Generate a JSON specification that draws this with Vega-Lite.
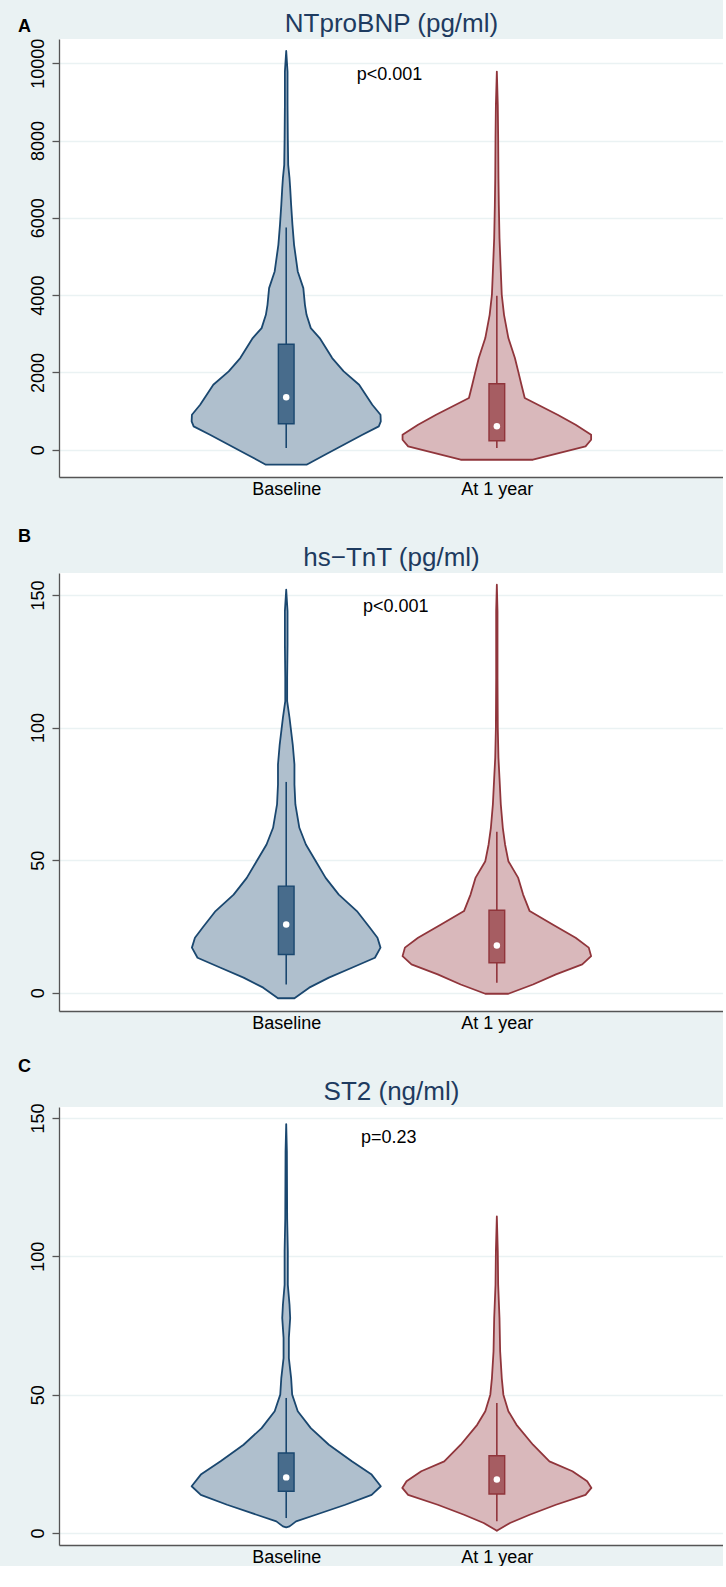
{
  "$schema": "https://vega.github.io/schema/vega-lite/v6.json",
  "padding": {"left": 17, "top": 10, "right": 0, "bottom": 0},
  "background": "#EAF2F3",
  "datasets": {
    "violins": [
      {"p":"A","g":"Baseline","v":10319,"d":0},
      {"p":"A","g":"Baseline","v":9785,"d":0.014},
      {"p":"A","g":"Baseline","v":8922,"d":0.014},
      {"p":"A","g":"Baseline","v":8061,"d":0.017},
      {"p":"A","g":"Baseline","v":7371,"d":0.021},
      {"p":"A","g":"Baseline","v":7026,"d":0.035},
      {"p":"A","g":"Baseline","v":6768,"d":0.042},
      {"p":"A","g":"Baseline","v":6336,"d":0.052},
      {"p":"A","g":"Baseline","v":5819,"d":0.066},
      {"p":"A","g":"Baseline","v":5302,"d":0.083},
      {"p":"A","g":"Baseline","v":4613,"d":0.122},
      {"p":"A","g":"Baseline","v":4182,"d":0.181},
      {"p":"A","g":"Baseline","v":3750,"d":0.198},
      {"p":"A","g":"Baseline","v":3492,"d":0.215},
      {"p":"A","g":"Baseline","v":3147,"d":0.26},
      {"p":"A","g":"Baseline","v":2889,"d":0.354},
      {"p":"A","g":"Baseline","v":2371,"d":0.486},
      {"p":"A","g":"Baseline","v":2027,"d":0.608},
      {"p":"A","g":"Baseline","v":1682,"d":0.771},
      {"p":"A","g":"Baseline","v":1164,"d":0.91},
      {"p":"A","g":"Baseline","v":906,"d":0.997},
      {"p":"A","g":"Baseline","v":734,"d":1},
      {"p":"A","g":"Baseline","v":604,"d":0.979},
      {"p":"A","g":"Baseline","v":389,"d":0.806},
      {"p":"A","g":"Baseline","v":130,"d":0.608},
      {"p":"A","g":"Baseline","v":-129,"d":0.41},
      {"p":"A","g":"Baseline","v":-387,"d":0.215},
      {"p":"A","g":"At 1 year","v":9785,"d":0},
      {"p":"A","g":"At 1 year","v":8922,"d":0.01},
      {"p":"A","g":"At 1 year","v":8061,"d":0.014},
      {"p":"A","g":"At 1 year","v":7026,"d":0.017},
      {"p":"A","g":"At 1 year","v":6336,"d":0.021},
      {"p":"A","g":"At 1 year","v":5475,"d":0.028},
      {"p":"A","g":"At 1 year","v":4613,"d":0.042},
      {"p":"A","g":"At 1 year","v":4010,"d":0.052},
      {"p":"A","g":"At 1 year","v":3491,"d":0.076},
      {"p":"A","g":"At 1 year","v":2889,"d":0.122},
      {"p":"A","g":"At 1 year","v":2372,"d":0.191},
      {"p":"A","g":"At 1 year","v":2027,"d":0.226},
      {"p":"A","g":"At 1 year","v":1682,"d":0.26},
      {"p":"A","g":"At 1 year","v":1337,"d":0.295},
      {"p":"A","g":"At 1 year","v":906,"d":0.642},
      {"p":"A","g":"At 1 year","v":648,"d":0.833},
      {"p":"A","g":"At 1 year","v":388,"d":0.997},
      {"p":"A","g":"At 1 year","v":259,"d":0.997},
      {"p":"A","g":"At 1 year","v":87,"d":0.938},
      {"p":"A","g":"At 1 year","v":-259,"d":0.382},
      {"p":"B","g":"Baseline","v":152,"d":0},
      {"p":"B","g":"Baseline","v":143.9,"d":0.014},
      {"p":"B","g":"Baseline","v":131.3,"d":0.014},
      {"p":"B","g":"Baseline","v":118.7,"d":0.01},
      {"p":"B","g":"Baseline","v":110,"d":0.01},
      {"p":"B","g":"Baseline","v":103.7,"d":0.035},
      {"p":"B","g":"Baseline","v":93.6,"d":0.069},
      {"p":"B","g":"Baseline","v":86.1,"d":0.087},
      {"p":"B","g":"Baseline","v":78.5,"d":0.087},
      {"p":"B","g":"Baseline","v":71,"d":0.097},
      {"p":"B","g":"Baseline","v":62.2,"d":0.139},
      {"p":"B","g":"Baseline","v":55.9,"d":0.208},
      {"p":"B","g":"Baseline","v":49.6,"d":0.313},
      {"p":"B","g":"Baseline","v":43.3,"d":0.417},
      {"p":"B","g":"Baseline","v":37,"d":0.556},
      {"p":"B","g":"Baseline","v":30.8,"d":0.747},
      {"p":"B","g":"Baseline","v":24.5,"d":0.885},
      {"p":"B","g":"Baseline","v":20.7,"d":0.965},
      {"p":"B","g":"Baseline","v":17,"d":0.997},
      {"p":"B","g":"Baseline","v":13.2,"d":0.938},
      {"p":"B","g":"Baseline","v":9.4,"d":0.694},
      {"p":"B","g":"Baseline","v":5.7,"d":0.451},
      {"p":"B","g":"Baseline","v":1.9,"d":0.243},
      {"p":"B","g":"Baseline","v":-2.1,"d":0.087},
      {"p":"B","g":"At 1 year","v":153.9,"d":0},
      {"p":"B","g":"At 1 year","v":143.9,"d":0.007},
      {"p":"B","g":"At 1 year","v":118.7,"d":0.007},
      {"p":"B","g":"At 1 year","v":99.9,"d":0.01},
      {"p":"B","g":"At 1 year","v":88.6,"d":0.017},
      {"p":"B","g":"At 1 year","v":81,"d":0.028},
      {"p":"B","g":"At 1 year","v":71,"d":0.042},
      {"p":"B","g":"At 1 year","v":62.2,"d":0.063},
      {"p":"B","g":"At 1 year","v":55.9,"d":0.087},
      {"p":"B","g":"At 1 year","v":49.6,"d":0.122},
      {"p":"B","g":"At 1 year","v":43.3,"d":0.226},
      {"p":"B","g":"At 1 year","v":37,"d":0.278},
      {"p":"B","g":"At 1 year","v":30.8,"d":0.347},
      {"p":"B","g":"At 1 year","v":25.7,"d":0.59},
      {"p":"B","g":"At 1 year","v":20.7,"d":0.833},
      {"p":"B","g":"At 1 year","v":17,"d":0.972},
      {"p":"B","g":"At 1 year","v":13.8,"d":0.997},
      {"p":"B","g":"At 1 year","v":10.7,"d":0.903},
      {"p":"B","g":"At 1 year","v":6.9,"d":0.625},
      {"p":"B","g":"At 1 year","v":3.1,"d":0.382},
      {"p":"B","g":"At 1 year","v":-0.4,"d":0.122},
      {"p":"C","g":"Baseline","v":147.8,"d":0},
      {"p":"C","g":"Baseline","v":137.9,"d":0.007},
      {"p":"C","g":"Baseline","v":113.8,"d":0.01},
      {"p":"C","g":"Baseline","v":101.8,"d":0.017},
      {"p":"C","g":"Baseline","v":89.7,"d":0.017},
      {"p":"C","g":"Baseline","v":82.5,"d":0.035},
      {"p":"C","g":"Baseline","v":77.7,"d":0.042},
      {"p":"C","g":"Baseline","v":70.5,"d":0.028},
      {"p":"C","g":"Baseline","v":63.2,"d":0.028},
      {"p":"C","g":"Baseline","v":56,"d":0.052},
      {"p":"C","g":"Baseline","v":50,"d":0.063},
      {"p":"C","g":"Baseline","v":44,"d":0.122},
      {"p":"C","g":"Baseline","v":37.9,"d":0.26},
      {"p":"C","g":"Baseline","v":31.9,"d":0.451},
      {"p":"C","g":"Baseline","v":25.9,"d":0.694},
      {"p":"C","g":"Baseline","v":21.1,"d":0.903},
      {"p":"C","g":"Baseline","v":16.9,"d":1},
      {"p":"C","g":"Baseline","v":13.8,"d":0.903},
      {"p":"C","g":"Baseline","v":10.2,"d":0.625},
      {"p":"C","g":"Baseline","v":6.6,"d":0.313},
      {"p":"C","g":"Baseline","v":4.2,"d":0.104},
      {"p":"C","g":"Baseline","v":2.4,"d":0.035},
      {"p":"C","g":"Baseline","v":2.0,"d":0},
      {"p":"C","g":"At 1 year","v":114.4,"d":0},
      {"p":"C","g":"At 1 year","v":101.8,"d":0.01},
      {"p":"C","g":"At 1 year","v":89.7,"d":0.014},
      {"p":"C","g":"At 1 year","v":77.7,"d":0.028},
      {"p":"C","g":"At 1 year","v":65.7,"d":0.035},
      {"p":"C","g":"At 1 year","v":56,"d":0.052},
      {"p":"C","g":"At 1 year","v":50,"d":0.069},
      {"p":"C","g":"At 1 year","v":44,"d":0.122},
      {"p":"C","g":"At 1 year","v":39.1,"d":0.208},
      {"p":"C","g":"At 1 year","v":31.9,"d":0.382},
      {"p":"C","g":"At 1 year","v":25.9,"d":0.556},
      {"p":"C","g":"At 1 year","v":22.3,"d":0.799},
      {"p":"C","g":"At 1 year","v":18.7,"d":0.955},
      {"p":"C","g":"At 1 year","v":16.3,"d":1},
      {"p":"C","g":"At 1 year","v":13.8,"d":0.938},
      {"p":"C","g":"At 1 year","v":10.2,"d":0.625},
      {"p":"C","g":"At 1 year","v":6.6,"d":0.347},
      {"p":"C","g":"At 1 year","v":3.6,"d":0.139},
      {"p":"C","g":"At 1 year","v":1.2,"d":0.017},
      {"p":"C","g":"At 1 year","v":0.8,"d":0}
    ],
    "boxes": [
      {"p":"A","g":"Baseline","q1":672,"med":1355,"q3":2728,"lo":44,"hi":5751},
      {"p":"A","g":"At 1 year","q1":233,"med":605,"q3":1707,"lo":44,"hi":3983},
      {"p":"B","g":"Baseline","q1":14.4,"med":25.7,"q3":40.2,"lo":3.1,"hi":79.5},
      {"p":"B","g":"At 1 year","q1":11.3,"med":17.8,"q3":31.1,"lo":3.8,"hi":60.7},
      {"p":"C","g":"Baseline","q1":15.1,"med":20.1,"q3":28.9,"lo":5.4,"hi":48.8},
      {"p":"C","g":"At 1 year","q1":14.1,"med":19.3,"q3":27.9,"lo":4.2,"hi":47}
    ],
    "notes": [
      {"p":"A","label":"p<0.001"},
      {"p":"B","label":"p<0.001"},
      {"p":"C","label":"p=0.23"}
    ]
  },
  "spacing": 96,
  "bounds": "flush",
  "vconcat": [
    {
      "width": 664, "height": 438,
      "resolve": {"axis": {"x": "independent"}},
      "layer": [
        {
          "data": {"name": "violins"},
          "transform": [
            {"filter": "datum.p === 'A'"},
            {"calculate": "datum.g === 'Baseline' ? 1 : 2", "as": "c"},
            {"calculate": "datum.c - 0.449 * datum.d", "as": "xlo"},
            {"calculate": "datum.c + 0.449 * datum.d", "as": "xhi"}
          ],
          "mark": {"type": "area", "orient": "horizontal", "strokeWidth": 1.8, "strokeJoin": "round"},
          "encoding": {
            "y": {"field": "v", "type": "quantitative", "title": "A",
                  "scale": {"domain": [-706, 10628], "nice": false, "zero": false},
                  "axis": {"values": [0, 2000, 4000, 6000, 8000, 10000], "format": "d", "titleY": -7.4}},
            "x": {"field": "xlo", "type": "quantitative",
                  "scale": {"domain": [-0.055, 3.05], "nice": false, "zero": false},
                  "axis": {"values": [1, 2], "labelExpr": "datum.value === 1 ? 'Baseline' : 'At 1 year'", "title": null, "grid": false, "ticks": false, "tickSize": 0, "labelPadding": 17, "labelBaseline": "alphabetic", "labelFontSize": 18}},
            "x2": {"field": "xhi"},
            "detail": {"field": "g"},
            "fill": {"condition": {"test": "datum.g === 'Baseline'", "value": "#AFBFCD"}, "value": "#D9B8BB"},
            "stroke": {"condition": {"test": "datum.g === 'Baseline'", "value": "#1A476F"}, "value": "#90353B"}
          }
        },
        {
          "data": {"name": "boxes"},
          "transform": [
            {"filter": "datum.p === 'A'"},
            {"calculate": "datum.g === 'Baseline' ? 1 : 2", "as": "c"}
          ],
          "mark": {"type": "rule", "strokeWidth": 1.6},
          "encoding": {
            "x": {"field": "c", "type": "quantitative", "axis": null},
            "y": {"field": "lo", "type": "quantitative", "title": "A"},
            "y2": {"field": "hi"},
            "stroke": {"condition": {"test": "datum.g === 'Baseline'", "value": "#1A476F"}, "value": "#90353B"}
          }
        },
        {
          "data": {"name": "boxes"},
          "transform": [
            {"filter": "datum.p === 'A'"},
            {"calculate": "datum.g === 'Baseline' ? 1 : 2", "as": "c"}
          ],
          "mark": {"type": "bar", "width": 15.7, "strokeWidth": 1.4},
          "encoding": {
            "x": {"field": "c", "type": "quantitative", "axis": null},
            "y": {"field": "q1", "type": "quantitative", "title": "A"},
            "y2": {"field": "q3"},
            "fill": {"condition": {"test": "datum.g === 'Baseline'", "value": "#486C8C"}, "value": "#A65D62"},
            "stroke": {"condition": {"test": "datum.g === 'Baseline'", "value": "#1A476F"}, "value": "#90353B"}
          }
        },
        {
          "data": {"name": "boxes"},
          "transform": [
            {"filter": "datum.p === 'A'"},
            {"calculate": "datum.g === 'Baseline' ? 1 : 2", "as": "c"}
          ],
          "mark": {"type": "point", "filled": true, "size": 42, "opacity": 1, "color": "white"},
          "encoding": {
            "x": {"field": "c", "type": "quantitative", "axis": null},
            "y": {"field": "med", "type": "quantitative", "title": "A"}
          }
        },
        {
          "data": {"name": "notes"},
          "transform": [{"filter": "datum.p === 'A'"}],
          "mark": {"type": "text", "fontSize": 18, "align": "center", "baseline": "middle", "color": "black"},
          "encoding": {
            "text": {"field": "label"},
            "x": {"datum": 1.49, "type": "quantitative",
                  "axis": {"orient": "top", "labels": false, "ticks": false, "domain": false, "grid": false, "title": "NTproBNP (pg/ml)"}},
            "y": {"datum": 9697, "type": "quantitative", "title": "A"}
          }
        }
      ]
    },
    {
      "width": 664, "height": 438,
      "resolve": {"axis": {"x": "independent"}},
      "layer": [
        {
          "data": {"name": "violins"},
          "transform": [
            {"filter": "datum.p === 'B'"},
            {"calculate": "datum.g === 'Baseline' ? 1 : 2", "as": "c"},
            {"calculate": "datum.c - 0.449 * datum.d", "as": "xlo"},
            {"calculate": "datum.c + 0.449 * datum.d", "as": "xhi"}
          ],
          "mark": {"type": "area", "orient": "horizontal", "strokeWidth": 1.8, "strokeJoin": "round"},
          "encoding": {
            "y": {"field": "v", "type": "quantitative", "title": "B",
                  "scale": {"domain": [-6.9, 158.3], "nice": false, "zero": false},
                  "axis": {"values": [0, 50, 100, 150], "format": "d", "titleY": -31.5}},
            "x": {"field": "xlo", "type": "quantitative",
                  "scale": {"domain": [-0.055, 3.05], "nice": false, "zero": false},
                  "axis": {"values": [1, 2], "labelExpr": "datum.value === 1 ? 'Baseline' : 'At 1 year'", "title": null, "grid": false, "ticks": false, "tickSize": 0, "labelPadding": 17, "labelBaseline": "alphabetic", "labelFontSize": 18}},
            "x2": {"field": "xhi"},
            "detail": {"field": "g"},
            "fill": {"condition": {"test": "datum.g === 'Baseline'", "value": "#AFBFCD"}, "value": "#D9B8BB"},
            "stroke": {"condition": {"test": "datum.g === 'Baseline'", "value": "#1A476F"}, "value": "#90353B"}
          }
        },
        {
          "data": {"name": "boxes"},
          "transform": [
            {"filter": "datum.p === 'B'"},
            {"calculate": "datum.g === 'Baseline' ? 1 : 2", "as": "c"}
          ],
          "mark": {"type": "rule", "strokeWidth": 1.6},
          "encoding": {
            "x": {"field": "c", "type": "quantitative", "axis": null},
            "y": {"field": "lo", "type": "quantitative", "title": "B"},
            "y2": {"field": "hi"},
            "stroke": {"condition": {"test": "datum.g === 'Baseline'", "value": "#1A476F"}, "value": "#90353B"}
          }
        },
        {
          "data": {"name": "boxes"},
          "transform": [
            {"filter": "datum.p === 'B'"},
            {"calculate": "datum.g === 'Baseline' ? 1 : 2", "as": "c"}
          ],
          "mark": {"type": "bar", "width": 15.7, "strokeWidth": 1.4},
          "encoding": {
            "x": {"field": "c", "type": "quantitative", "axis": null},
            "y": {"field": "q1", "type": "quantitative", "title": "B"},
            "y2": {"field": "q3"},
            "fill": {"condition": {"test": "datum.g === 'Baseline'", "value": "#486C8C"}, "value": "#A65D62"},
            "stroke": {"condition": {"test": "datum.g === 'Baseline'", "value": "#1A476F"}, "value": "#90353B"}
          }
        },
        {
          "data": {"name": "boxes"},
          "transform": [
            {"filter": "datum.p === 'B'"},
            {"calculate": "datum.g === 'Baseline' ? 1 : 2", "as": "c"}
          ],
          "mark": {"type": "point", "filled": true, "size": 42, "opacity": 1, "color": "white"},
          "encoding": {
            "x": {"field": "c", "type": "quantitative", "axis": null},
            "y": {"field": "med", "type": "quantitative", "title": "B"}
          }
        },
        {
          "data": {"name": "notes"},
          "transform": [{"filter": "datum.p === 'B'"}],
          "mark": {"type": "text", "fontSize": 18, "align": "center", "baseline": "middle", "color": "black"},
          "encoding": {
            "text": {"field": "label"},
            "x": {"datum": 1.52, "type": "quantitative",
                  "axis": {"orient": "top", "labels": false, "ticks": false, "domain": false, "grid": false, "title": "hs−TnT (pg/ml)"}},
            "y": {"datum": 145.5, "type": "quantitative", "title": "B"}
          }
        }
      ]
    },
    {
      "width": 664, "height": 438,
      "resolve": {"axis": {"x": "independent"}},
      "layer": [
        {
          "data": {"name": "violins"},
          "transform": [
            {"filter": "datum.p === 'C'"},
            {"calculate": "datum.g === 'Baseline' ? 1 : 2", "as": "c"},
            {"calculate": "datum.c - 0.449 * datum.d", "as": "xlo"},
            {"calculate": "datum.c + 0.449 * datum.d", "as": "xhi"}
          ],
          "mark": {"type": "area", "orient": "horizontal", "strokeWidth": 1.8, "strokeJoin": "round"},
          "encoding": {
            "y": {"field": "v", "type": "quantitative", "title": "C",
                  "scale": {"domain": [-4.34, 153.96], "nice": false, "zero": false},
                  "axis": {"values": [0, 50, 100, 150], "format": "d", "titleY": -35.8}},
            "x": {"field": "xlo", "type": "quantitative",
                  "scale": {"domain": [-0.055, 3.05], "nice": false, "zero": false},
                  "axis": {"values": [1, 2], "labelExpr": "datum.value === 1 ? 'Baseline' : 'At 1 year'", "title": null, "grid": false, "ticks": false, "tickSize": 0, "labelPadding": 17, "labelBaseline": "alphabetic", "labelFontSize": 18}},
            "x2": {"field": "xhi"},
            "detail": {"field": "g"},
            "fill": {"condition": {"test": "datum.g === 'Baseline'", "value": "#AFBFCD"}, "value": "#D9B8BB"},
            "stroke": {"condition": {"test": "datum.g === 'Baseline'", "value": "#1A476F"}, "value": "#90353B"}
          }
        },
        {
          "data": {"name": "boxes"},
          "transform": [
            {"filter": "datum.p === 'C'"},
            {"calculate": "datum.g === 'Baseline' ? 1 : 2", "as": "c"}
          ],
          "mark": {"type": "rule", "strokeWidth": 1.6},
          "encoding": {
            "x": {"field": "c", "type": "quantitative", "axis": null},
            "y": {"field": "lo", "type": "quantitative", "title": "C"},
            "y2": {"field": "hi"},
            "stroke": {"condition": {"test": "datum.g === 'Baseline'", "value": "#1A476F"}, "value": "#90353B"}
          }
        },
        {
          "data": {"name": "boxes"},
          "transform": [
            {"filter": "datum.p === 'C'"},
            {"calculate": "datum.g === 'Baseline' ? 1 : 2", "as": "c"}
          ],
          "mark": {"type": "bar", "width": 15.7, "strokeWidth": 1.4},
          "encoding": {
            "x": {"field": "c", "type": "quantitative", "axis": null},
            "y": {"field": "q1", "type": "quantitative", "title": "C"},
            "y2": {"field": "q3"},
            "fill": {"condition": {"test": "datum.g === 'Baseline'", "value": "#486C8C"}, "value": "#A65D62"},
            "stroke": {"condition": {"test": "datum.g === 'Baseline'", "value": "#1A476F"}, "value": "#90353B"}
          }
        },
        {
          "data": {"name": "boxes"},
          "transform": [
            {"filter": "datum.p === 'C'"},
            {"calculate": "datum.g === 'Baseline' ? 1 : 2", "as": "c"}
          ],
          "mark": {"type": "point", "filled": true, "size": 42, "opacity": 1, "color": "white"},
          "encoding": {
            "x": {"field": "c", "type": "quantitative", "axis": null},
            "y": {"field": "med", "type": "quantitative", "title": "C"}
          }
        },
        {
          "data": {"name": "notes"},
          "transform": [{"filter": "datum.p === 'C'"}],
          "mark": {"type": "text", "fontSize": 18, "align": "center", "baseline": "middle", "color": "black"},
          "encoding": {
            "text": {"field": "label"},
            "x": {"datum": 1.487, "type": "quantitative",
                  "axis": {"orient": "top", "labels": false, "ticks": false, "domain": false, "grid": false, "title": "ST2 (ng/ml)"}},
            "y": {"datum": 142.8, "type": "quantitative", "title": "C"}
          }
        }
      ]
    }
  ],
  "config": {
    "font": "Liberation Sans",
    "view": {"fill": "white", "stroke": null},
    "axis": {
      "domainColor": "#555555", "domainWidth": 1.3,
      "tickColor": "#555555", "tickWidth": 1.3,
      "labelColor": "#000000", "labelFontSize": 18, "labelFont": "Liberation Sans",
      "gridColor": "#EAF2F3", "gridWidth": 1.3
    },
    "axisY": {
      "grid": true, "labelAngle": 270, "labelAlign": "center", "labelBaseline": "alphabetic",
      "tickSize": 7, "labelPadding": 9,
      "titleAngle": 0, "titleAlign": "left", "titleBaseline": "alphabetic",
      "titleFontSize": 18, "titleFontWeight": "bold", "titleColor": "#000000", "titleX": -41.4
    },
    "axisTop": {
      "titleFontSize": 26, "titleFontWeight": "normal", "titleColor": "#1E3B60",
      "titlePadding": 8, "titleBaseline": "alphabetic"
    }
  }
}
